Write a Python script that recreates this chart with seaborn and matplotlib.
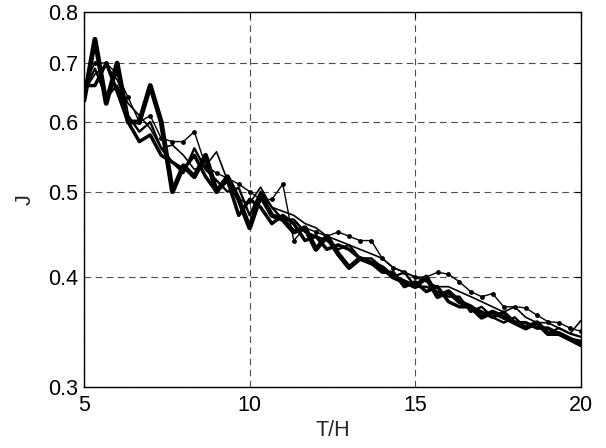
import matplotlib
matplotlib.use("Agg")
import matplotlib.pyplot as plt
from matplotlib.ticker import NullLocator, FixedLocator, FixedFormatter
import seaborn as sns
import pandas as pd

# T/H sample positions
t_over_h = [5.00, 5.33, 5.67, 6.00, 6.33, 6.67, 7.00, 7.33, 7.67, 8.00,
            8.33, 8.67, 9.00, 9.33, 9.67, 10.00, 10.33, 10.67, 11.00, 11.33,
            11.67, 12.00, 12.33, 12.67, 13.00, 13.33, 13.67, 14.00, 14.33, 14.67,
            15.00, 15.33, 15.67, 16.00, 16.33, 16.67, 17.00, 17.33, 17.67, 18.00,
            18.33, 18.67, 19.00, 19.33, 19.67, 20.00]

# very thick line
j_a = [0.635, 0.745, 0.630, 0.700, 0.600, 0.600, 0.660, 0.600, 0.500, 0.535,
       0.520, 0.550, 0.500, 0.520, 0.490, 0.455, 0.495, 0.470, 0.465, 0.450,
       0.455, 0.430, 0.445, 0.425, 0.410, 0.420, 0.415, 0.410, 0.400, 0.395,
       0.390, 0.400, 0.380, 0.385, 0.375, 0.370, 0.360, 0.365, 0.360, 0.355,
       0.350, 0.355, 0.345, 0.345, 0.340, 0.335]

# thick line
j_b = [0.660, 0.660, 0.700, 0.650, 0.600, 0.570, 0.580, 0.550, 0.540, 0.530,
       0.550, 0.520, 0.500, 0.515, 0.470, 0.490, 0.480, 0.460, 0.470, 0.460,
       0.440, 0.445, 0.430, 0.435, 0.430, 0.420, 0.415, 0.405, 0.405, 0.390,
       0.395, 0.385, 0.390, 0.375, 0.370, 0.370, 0.365, 0.360, 0.365, 0.355,
       0.355, 0.350, 0.350, 0.345, 0.340, 0.338]

# medium line
j_c = [0.650, 0.690, 0.640, 0.660, 0.610, 0.585, 0.600, 0.560, 0.540, 0.525,
       0.560, 0.530, 0.515, 0.500, 0.505, 0.470, 0.500, 0.480, 0.465, 0.465,
       0.450, 0.445, 0.440, 0.430, 0.435, 0.420, 0.420, 0.410, 0.400, 0.405,
       0.390, 0.390, 0.385, 0.380, 0.380, 0.365, 0.370, 0.360, 0.355, 0.360,
       0.350, 0.355, 0.345, 0.350, 0.345, 0.342]

# thin line with dot markers
j_d = [0.660, 0.700, 0.700, 0.680, 0.640, 0.600, 0.610, 0.575, 0.570, 0.570,
       0.585, 0.535, 0.525, 0.518, 0.510, 0.500, 0.490, 0.490, 0.510, 0.440,
       0.455, 0.450, 0.445, 0.450, 0.445, 0.440, 0.440, 0.420, 0.410, 0.405,
       0.400, 0.400, 0.405, 0.403, 0.395, 0.385, 0.380, 0.383, 0.370, 0.370,
       0.369, 0.362, 0.356, 0.355, 0.350, 0.347]

# thin line
j_e = [0.650, 0.680, 0.695, 0.670, 0.630, 0.610, 0.590, 0.560, 0.565, 0.550,
       0.530, 0.535, 0.555, 0.515, 0.490, 0.485, 0.506, 0.480, 0.475, 0.470,
       0.460, 0.455, 0.445, 0.440, 0.435, 0.430, 0.425, 0.420, 0.410, 0.405,
       0.400, 0.395, 0.390, 0.390, 0.385, 0.380, 0.375, 0.370, 0.365, 0.370,
       0.360, 0.355, 0.355, 0.350, 0.345, 0.357]

x_ticks = [5, 10, 15, 20]
y_ticks = [0.3, 0.4, 0.5, 0.6, 0.7, 0.8]
y_tick_labels = ["0.3", "0.4", "0.5", "0.6", "0.7", "0.8"]

sns.set_style("white")
plt.rcParams["font.family"] = ["Liberation Sans", "DejaVu Sans"]

fig = plt.figure(figsize=(6.06, 4.48), dpi=100)
ax = fig.add_axes([84 / 606, 1 - 387 / 448, (581 - 84) / 606, (387 - 12) / 448])

series = [
    (j_a, 3.5, None),
    (j_b, 2.5, None),
    (j_c, 1.7, None),
    (j_e, 1.2, None),
    (j_d, 1.0, "o"),
]
for vals, lw, mk in series:
    df = pd.DataFrame({"T/H": t_over_h, "J": vals})
    sns.lineplot(data=df, x="T/H", y="J", ax=ax, color="black", linewidth=lw,
                 marker=mk, markersize=3.5 if mk else None, markeredgewidth=0,
                 sort=False, estimator=None)

ax.set_yscale("log")
ax.set_xlim(5, 20)
ax.set_ylim(0.3, 0.8)
ax.xaxis.set_major_locator(FixedLocator(x_ticks))
ax.yaxis.set_major_locator(FixedLocator(y_ticks))
ax.yaxis.set_major_formatter(FixedFormatter(y_tick_labels))
ax.yaxis.set_minor_locator(NullLocator())
ax.xaxis.set_minor_locator(NullLocator())

ax.grid(True, which="major", color="0.3", linestyle=(0, (6, 4)), linewidth=0.8)
ax.set_axisbelow(True)
for s in ax.spines.values():
    s.set_visible(True)
    s.set_color("black")
    s.set_linewidth(1.0)

ax.tick_params(axis="both", direction="in", length=4, width=0.8, colors="black",
               labelsize=15.5, top=True, right=True)
ax.tick_params(axis="x", pad=5.5)
ax.tick_params(axis="y", pad=4)
ax.set_xlabel("T/H", fontsize=15.5, labelpad=3)
ax.set_ylabel("J", fontsize=15.5, labelpad=9)

fig.savefig("out.png", dpi=100)
